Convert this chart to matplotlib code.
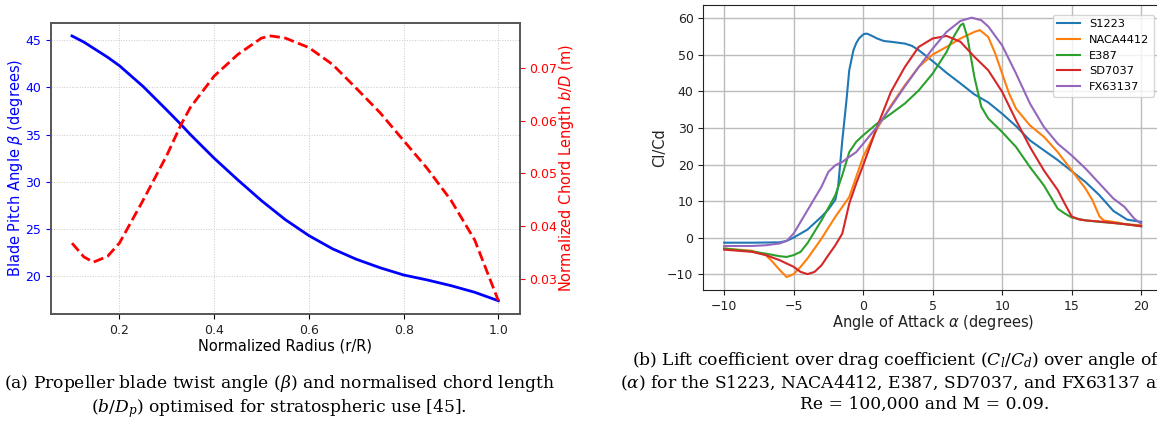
import matplotlib
matplotlib.use("Agg")
import matplotlib.pyplot as plt

# ---------------- data: left panel ----------------
radius = [0.10, 0.125, 0.15, 0.175, 0.20, 0.25, 0.30, 0.33, 0.35, 0.40, 0.45, 0.50,
          0.55, 0.60, 0.65, 0.70, 0.75, 0.80, 0.85, 0.90, 0.95, 1.00]
pitch_deg = [45.45, 44.8, 44.0, 43.2, 42.3, 40.1, 37.6, 36.07, 35.0, 32.5, 30.2,
             28.0, 26.0, 24.3, 22.9, 21.8, 20.9, 20.13, 19.6, 19.0, 18.3, 17.4]

radius_c = [0.10, 0.125, 0.145, 0.175, 0.20, 0.25, 0.30, 0.33, 0.35, 0.40, 0.45,
            0.50, 0.52, 0.55, 0.60, 0.65, 0.70, 0.75, 0.80, 0.85, 0.90, 0.95, 1.00]
chord = [0.0368, 0.0342, 0.0332, 0.0343, 0.0368, 0.0449, 0.0534, 0.0592, 0.0625,
         0.0684, 0.0725, 0.0756, 0.0760, 0.0756, 0.0738, 0.0706, 0.0661, 0.0615,
         0.0562, 0.0509, 0.0449, 0.0374, 0.0259]

# ---------------- data: right panel ----------------
s1223_a = [-10, -8, -6, -5.5, -5, -4, -3, -2.5, -2, -1.8, -1.5, -1.2, -1.0, -0.7,
           -0.5, -0.3, 0, 0.15, 0.3, 0.7, 1, 1.5, 2, 3, 3.5, 4, 5, 6, 7, 8, 9, 10,
           11, 12, 13, 14, 15, 16, 17, 18, 19, 20]
s1223_v = [-1.4, -1.4, -1.3, -0.9, 0.0, 2.2, 5.7, 7.7, 10.4, 13.9, 26.6, 37.6,
           45.8, 51.3, 53.2, 54.5, 55.6, 55.8, 55.8, 55.1, 54.5, 53.8, 53.6, 53.1,
           52.5, 51.3, 48.3, 45.1, 42.2, 39.2, 37.0, 33.9, 30.5, 26.6, 23.9, 21.2,
           18.2, 15.2, 11.6, 7.3, 4.9, 4.3]

naca_a = [-10, -8, -7, -6.5, -6, -5.5, -5, -4.5, -4, -3, -2, -1, 0, 1, 2, 3, 4,
          5, 6, 7, 8, 8.4, 9, 9.5, 10, 10.5, 11, 12, 13, 14, 15, 16, 16.5, 17,
          17.3, 18, 19, 20]
naca_v = [-3.0, -3.6, -4.8, -6.7, -8.9, -10.8, -10.0, -8.0, -5.7, -0.3, 5.7,
          11.1, 22.1, 29.8, 36.2, 41.7, 46.7, 50.1, 52.2, 54.5, 56.3, 56.8, 54.9,
          50.4, 44.9, 39.4, 35.3, 30.7, 27.6, 23.4, 18.4, 13.4, 10.2, 5.8, 4.7,
          4.3, 3.6, 3.4]

e387_a = [-10, -8, -7, -6, -5.5, -5, -4.5, -4, -3, -2, -1.5, -1, -0.5, 0, 1, 2,
          3, 4, 5, 6, 6.5, 7, 7.2, 7.5, 8, 8.5, 9, 10, 11, 12, 13, 14, 14.5, 15,
          16, 17, 18, 19, 20]
e387_v = [-3.0, -3.8, -4.4, -5.1, -5.3, -4.8, -3.9, -1.5, 4.7, 11.6, 17.1, 23.4,
          26.2, 28.0, 31.2, 33.9, 36.7, 40.3, 44.9, 50.8, 54.9, 58.1, 58.6, 54.9,
          44.0, 35.8, 32.6, 28.9, 24.8, 19.3, 14.3, 7.9, 6.6, 5.5, 4.7, 4.3, 4.0,
          3.6, 3.1]

sd7037_a = [-10, -8, -7, -6, -5, -4.5, -4, -3.5, -3, -2.5, -2, -1.5, -1, -0.5,
            0, 1, 2, 3, 4, 5, 6, 7, 8, 9, 10, 11, 12, 13, 14, 14.5, 15, 15.5, 16,
            17, 18, 19, 20]
sd7037_v = [-3.3, -3.9, -4.8, -6.2, -8.0, -9.4, -10.0, -9.4, -7.6, -4.8, -2.1,
            1.1, 9.3, 14.8, 19.8, 30.3, 39.9, 46.7, 52.2, 54.5, 55.2, 53.6, 49.5,
            45.8, 39.9, 32.1, 24.8, 18.4, 13.0, 9.3, 5.8, 5.0, 4.7, 4.4, 4.0, 3.6,
            3.1]

fx_a = [-10, -8, -7, -6, -5.5, -5, -4, -3, -2.5, -2, -1.5, -1, -0.5, 0, 1, 2, 3,
        4, 5, 6, 7, 7.8, 8.5, 9, 10, 11, 12, 13, 14, 15, 16, 17, 18, 18.8, 19.5, 20]
fx_v = [-2.3, -2.3, -2.1, -1.6, -0.9, 1.1, 7.5, 13.9, 18.0, 19.8, 20.7, 22.1,
        23.4, 25.7, 30.3, 35.8, 41.4, 46.7, 51.7, 56.3, 59.3, 60.2, 59.5, 57.8,
        52.6, 44.9, 36.7, 30.3, 25.7, 22.5, 18.9, 14.8, 10.7, 8.4, 5.2, 3.8]

airfoils = ["S1223", "NACA4412", "E387", "SD7037", "FX63137"]

caption_a = ("(a) Propeller blade twist angle ($\\beta$) and normalised chord length\n"
             "($b/D_p$) optimised for stratospheric use [45].")
caption_b = ("(b) Lift coefficient over drag coefficient ($C_l/C_d$) over angle of attack\n"
             "($\\alpha$) for the S1223, NACA4412, E387, SD7037, and FX63137 airfoils at\n"
             "Re = 100,000 and M = 0.09.")

# ---------------- figure ----------------
W, H = 1157, 421
fig = plt.figure(figsize=(W / 100, H / 100), dpi=100)

def px_axes(l, t, r, b):
    return fig.add_axes([l / W, 1 - b / H, (r - l) / W, (b - t) / H])

LFS = 10.5
TFS = 9

# left panel
ax1 = px_axes(50.7, 22.7, 519.7, 314)
ax1.plot(radius, pitch_deg, color="blue", lw=2)
ax1.set_xlabel("Normalized Radius (r/R)", fontsize=LFS, labelpad=1)
ax1.set_ylabel("Blade Pitch Angle $\\beta$ (degrees)", color="blue", fontsize=LFS,
               labelpad=0)
ax1.tick_params(axis="y", colors="blue", labelsize=TFS)
ax1.tick_params(axis="x", labelsize=TFS)
ax1.set_xticks([0.2, 0.4, 0.6, 0.8, 1.0])
ax1.set_yticks([20, 25, 30, 35, 40, 45])
ax1.grid(True, linestyle=":", color="#c8c8c8", lw=0.7)
ax2 = ax1.twinx()
ax2.plot(radius_c, chord, color="red", lw=2, ls="--")
ax2.set_ylabel("Normalized Chord Length $b/D$ (m)", color="red", fontsize=LFS,
               labelpad=0)
ax2.tick_params(axis="y", colors="red", labelsize=TFS)
ax2.set_yticks([0.03, 0.04, 0.05, 0.06, 0.07])
for a in (ax1, ax2):
    for s in a.spines.values():
        s.set_color("#555555")
        s.set_linewidth(1.2)
for lab in ax1.get_xticklabels():
    lab.set_color("#222222")

# right panel
ax3 = px_axes(703.3, 4.7, 1162.0, 290)
colors = ["#1f77b4", "#ff7f0e", "#2ca02c", "#d62728", "#9467bd"]
series = [(s1223_a, s1223_v), (naca_a, naca_v), (e387_a, e387_v),
          (sd7037_a, sd7037_v), (fx_a, fx_v)]
for (xa, ya), name, c in zip(series, airfoils, colors):
    ax3.plot(xa, ya, color=c, lw=1.5, label=name)
ax3.set_xlim(-11.5, 21.5)
ax3.set_xticks([-10, -5, 0, 5, 10, 15, 20])
ax3.set_yticks([-10, 0, 10, 20, 30, 40, 50, 60])
ax3.grid(True, color="#bcbcbc", lw=1.0)
ax3.set_xlabel("Angle of Attack $\\alpha$ (degrees)", fontsize=LFS, color="#222222",
               labelpad=0)
ax3.set_ylabel("Cl/Cd", fontsize=LFS, color="#222222", labelpad=0)
ax3.tick_params(labelsize=TFS, colors="#222222")
for s in ax3.spines.values():
    s.set_color("#222222")
ax3.legend(loc="upper right", fontsize=8.2, framealpha=0.8,
           bbox_to_anchor=(0.995, 0.985))

# captions
cap_kw = dict(family="DejaVu Serif", fontsize=12.35, math_fontfamily="dejavuserif",
              ha="center", va="top", linespacing=1.22)
fig.text(279 / W, 1 - 373 / H, caption_a, **cap_kw)
fig.text(925 / W, 1 - 350 / H, caption_b, **cap_kw)

fig.savefig("out.png", dpi=100)
